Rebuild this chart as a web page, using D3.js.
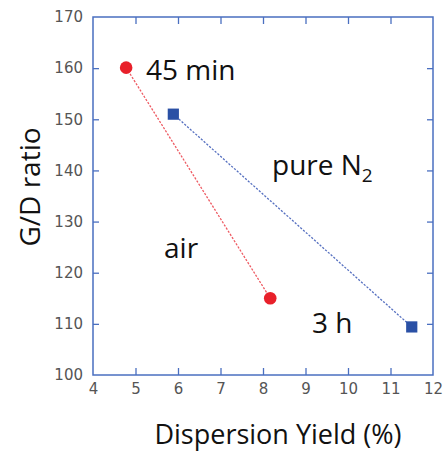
<!DOCTYPE html>
<html>
<head>
<meta charset="utf-8">
<script src="https://cdn.jsdelivr.net/npm/d3@7"></script>
<style>
  body { margin: 0; background: #fff; }
  svg { display: block; }
</style>
</head>
<body>
<svg id="chart" width="445" height="453"></svg>
<script>
// G/D ratio vs dispersion yield for two atmospheres
const airYield = [4.78, 8.17];
const airGD = [160.1, 115.0];
const n2Yield = [5.89, 11.5];
const n2GD = [151.0, 109.4];
const xTicks = [4, 5, 6, 7, 8, 9, 10, 11, 12];
const yTicks = [100, 110, 120, 130, 140, 150, 160, 170];

const svg = d3.select("#chart");
const plotL = 93, plotR = 433, plotT = 17, plotB = 375;
const x = d3.scaleLinear().domain([4, 12]).range([plotL, plotR]);
const y = d3.scaleLinear().domain([100, 170]).range([plotB, plotT]);

const axisColor = "#4a6fc0";
const tickFont = "'DejaVu Sans', sans-serif";
const labelFont = "'Open Sans', 'Noto Sans', sans-serif";

// frame
svg.append("rect")
  .attr("x", plotL).attr("y", plotT)
  .attr("width", plotR - plotL).attr("height", plotB - plotT)
  .attr("fill", "none").attr("stroke", axisColor).attr("stroke-width", 1.5);

function styleAxis(g, showText) {
  g.select(".domain").remove();
  g.selectAll(".tick line").attr("stroke", axisColor).attr("stroke-width", 1.3);
  g.selectAll(".tick text")
    .attr("fill", "#555")
    .attr("font-family", tickFont)
    .attr("font-size", 15)
    .style("display", showText ? null : "none");
}

// bottom / top axes with inward ticks
svg.append("g").attr("transform", `translate(0,${plotB})`)
  .call(d3.axisBottom(x).tickValues(xTicks).tickSize(-7).tickPadding(8))
  .call(g => styleAxis(g, true))
  .call(g => g.selectAll(".tick").filter(d => d === 4 || d === 12).select("line").remove());
svg.append("g").attr("transform", `translate(0,${plotT})`)
  .call(d3.axisTop(x).tickValues(xTicks).tickSize(-7))
  .call(g => styleAxis(g, false))
  .call(g => g.selectAll(".tick").filter(d => d === 4 || d === 12).select("line").remove());

// left / right axes with inward ticks
svg.append("g").attr("transform", `translate(${plotL},0)`)
  .call(d3.axisLeft(y).tickValues(yTicks).tickSize(-6).tickPadding(10))
  .call(g => styleAxis(g, true))
  .call(g => g.selectAll(".tick").filter(d => d === 100 || d === 170).select("line").remove());
svg.append("g").attr("transform", `translate(${plotR},0)`)
  .call(d3.axisRight(y).tickValues(yTicks).tickSize(-6))
  .call(g => styleAxis(g, false))
  .call(g => g.selectAll(".tick").filter(d => d === 100 || d === 170).select("line").remove());

// connecting lines
const line = d3.line().x(d => x(d[0])).y(d => y(d[1]));
const airPts = airYield.map((v, i) => [v, airGD[i]]);
const n2Pts = n2Yield.map((v, i) => [v, n2GD[i]]);

svg.append("path").datum(airPts).attr("d", line)
  .attr("fill", "none").attr("stroke", "#ee5a62").attr("stroke-width", 1.3)
  .attr("stroke-dasharray", "2.2,1.5");
svg.append("path").datum(n2Pts).attr("d", line)
  .attr("fill", "none").attr("stroke", "#5670c0").attr("stroke-width", 1.3)
  .attr("stroke-dasharray", "2.2,1.5");

// markers
svg.selectAll("circle.air").data(airPts).enter().append("circle")
  .attr("class", "air")
  .attr("cx", d => x(d[0])).attr("cy", d => y(d[1])).attr("r", 6.3)
  .attr("fill", "#e8202a");
svg.selectAll("rect.n2").data(n2Pts).enter().append("rect")
  .attr("class", "n2")
  .attr("x", d => x(d[0]) - 5.6).attr("y", d => y(d[1]) - 5.6)
  .attr("width", 11.2).attr("height", 11.2)
  .attr("fill", "#2a50a5");

// annotations
const ann = svg.append("g").attr("font-family", labelFont).attr("font-size", 28).attr("fill", "#111");
ann.append("text").attr("x", 146).attr("y", 80).text("45 min");
ann.append("text").attr("x", 164).attr("y", 258).text("air");
ann.append("text").attr("x", 312).attr("y", 333).text("3 h");
const pn = ann.append("text").attr("x", 272).attr("y", 175).text("pure N");
pn.append("tspan").attr("font-size", 19).attr("dy", 7).text("2");

// axis titles
svg.append("text")
  .attr("x", 278).attr("y", 444)
  .attr("text-anchor", "middle")
  .attr("font-family", labelFont).attr("font-size", 27).attr("fill", "#111")
  .text("Dispersion Yield (%)");
svg.append("text")
  .attr("transform", "translate(40,187) rotate(-90)")
  .attr("text-anchor", "middle")
  .attr("font-family", labelFont).attr("font-size", 28).attr("fill", "#111")
  .text("G/D ratio");
</script>
</body>
</html>
